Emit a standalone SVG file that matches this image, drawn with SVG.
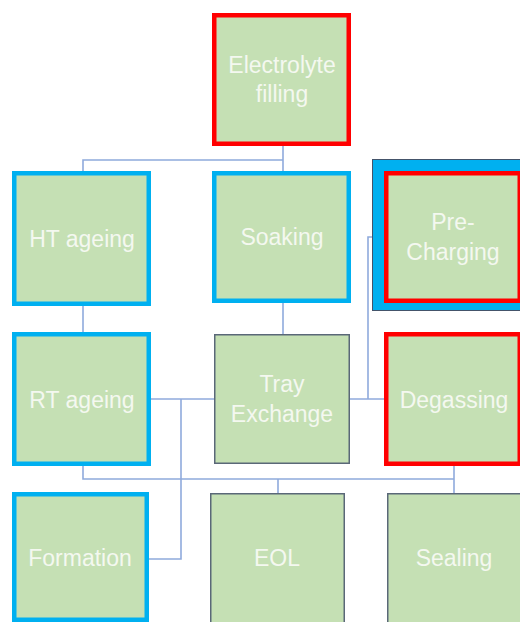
<svg xmlns="http://www.w3.org/2000/svg" width="520" height="622" viewBox="0 0 520 622">
  <defs>
    <style>
      .box { fill: #C5E0B4; }
      .red { stroke: #FF0000; stroke-width: 4.5; }
      .blue { stroke: #00B0F0; stroke-width: 4.5; }
      .plain { stroke: #5A6878; stroke-width: 1.5; }
      .lbl { font-family: "Liberation Sans", "DejaVu Sans", sans-serif; font-size: 23px; fill: #F4F8F0; text-anchor: middle; }
      .wire { fill: none; stroke: #8FAADC; stroke-width: 1.6; }
    </style>
  </defs>
  <rect width="520" height="622" fill="#FFFFFF"/>

  <!-- connectors -->
  <g id="connectors" class="wire">
    <path d="M283 146 V173 M283 160 H83 V173"/>
    <path d="M83 306 V334"/>
    <path d="M283 303 V335"/>
    <path d="M151 399 H214"/>
    <path d="M181 399 V559 H149"/>
    <path d="M350 399 H386"/>
    <path d="M368 399 V237 H386"/>
    <path d="M83 466 V479 H454 V466 M454 479 V495 M278 479 V494"/>
  </g>

  <g id="electrolyte-filling">
    <rect class="box red" x="214.25" y="15.25" width="134.5" height="128.5"/>
    <text class="lbl" x="282" y="73">Electrolyte</text>
    <text class="lbl" x="282" y="102">filling</text>
  </g>

  <g id="ht-ageing">
    <rect class="box blue" x="14.25" y="173.25" width="134.5" height="130.5"/>
    <text class="lbl" x="82" y="247">HT ageing</text>
  </g>

  <g id="soaking">
    <rect class="box blue" x="214.25" y="173.25" width="134.5" height="127.5"/>
    <text class="lbl" x="282" y="245">Soaking</text>
  </g>

  <g id="pre-charging">
    <rect x="372.5" y="159.5" width="160" height="151" fill="#00B0F0" stroke="#44546A" stroke-width="1"/>
    <rect class="box red" x="386.25" y="173.25" width="133.5" height="127.5"/>
    <text class="lbl" x="453" y="230">Pre-</text>
    <text class="lbl" x="453" y="260">Charging</text>
  </g>

  <g id="rt-ageing">
    <rect class="box blue" x="14.25" y="334.25" width="134.5" height="129.5"/>
    <text class="lbl" x="82" y="408">RT ageing</text>
  </g>

  <g id="tray-exchange">
    <rect class="box plain" x="214.75" y="334.75" width="134.5" height="128.5"/>
    <text class="lbl" x="282" y="392">Tray</text>
    <text class="lbl" x="282" y="422">Exchange</text>
  </g>

  <g id="degassing">
    <rect class="box red" x="386.25" y="334.25" width="133.5" height="129.5"/>
    <text class="lbl" x="454" y="408">Degassing</text>
  </g>

  <g id="formation">
    <rect class="box blue" x="14.25" y="494.25" width="132.5" height="125.5"/>
    <text class="lbl" x="80" y="566">Formation</text>
  </g>

  <g id="eol">
    <rect class="box plain" x="210.75" y="493.75" width="133.5" height="140"/>
    <text class="lbl" x="277" y="566">EOL</text>
  </g>

  <g id="sealing">
    <rect class="box plain" x="387.75" y="493.75" width="140" height="140"/>
    <text class="lbl" x="454" y="566">Sealing</text>
  </g>
</svg>
